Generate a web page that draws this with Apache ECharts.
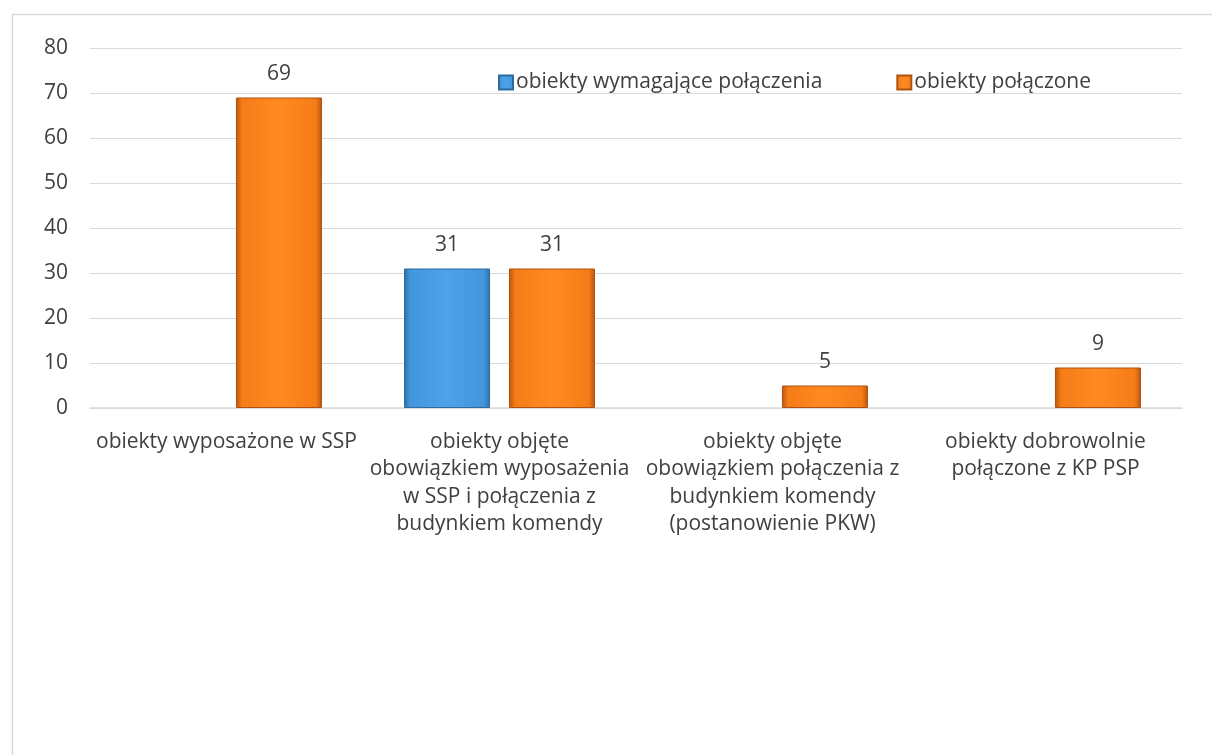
<!DOCTYPE html>
<html>
<head>
<meta charset="utf-8">
<script src="https://cdn.jsdelivr.net/npm/echarts@6/dist/echarts.min.js"></script>
<style>html,body{margin:0;padding:0;background:#fff;}#c{width:1212px;height:755px;}</style>
</head>
<body>
<div id="c"></div>
<script>
const categories = [
  'obiekty wyposażone w SSP',
  'obiekty objęte\nobowiązkiem wyposażenia\nw SSP i połączenia z\nbudynkiem komendy',
  'obiekty objęte\nobowiązkiem połączenia z\nbudynkiem komendy\n(postanowienie PKW)',
  'obiekty dobrowolnie\npołączone z KP PSP'
];
const seriesNames = ['obiekty wymagające połączenia', 'obiekty połączone'];
const requiredValues = [null, 31, null, null];
const connectedValues = [69, 31, 5, 9];
const yTicks = [0, 10, 20, 30, 40, 50, 60, 70, 80];

function grad(dark, main, light) {
  return new echarts.graphic.LinearGradient(0, 0, 1, 0, [
    {offset: 0, color: dark},
    {offset: 0.07, color: main},
    {offset: 0.5, color: light},
    {offset: 0.93, color: main},
    {offset: 1, color: dark}
  ]);
}
const chart = echarts.init(document.getElementById('c'));
const font = '"Open Sans", "Noto Sans", sans-serif';
const fs = 21;
chart.setOption({
  animation: false,
  textStyle: {fontFamily: font},
  graphic: [{
    type: 'rect', left: 10, top: 12,
    shape: {width: 1260, height: 800},
    style: {fill: 'none', stroke: '#d9d9d9', lineWidth: 1.5},
    silent: true, z: -1
  }],
  legend: {
    left: 493, top: 67, itemWidth: 14, itemHeight: 14, itemGap: 74,
    icon: 'rect',
    textStyle: {fontSize: fs, color: '#404040', fontFamily: font, padding: [0, 0, 0, -2]},
    data: seriesNames
  },
  grid: {left: 90, right: 30, top: 48, bottom: 347, containLabel: false},
  xAxis: {
    type: 'category', data: categories,
    axisLine: {lineStyle: {color: '#d9d9d9', width: 1.5}},
    axisTick: {show: false},
    axisLabel: {fontSize: fs, color: '#404040', lineHeight: 27.5, margin: 20, fontFamily: font, interval: 0}
  },
  yAxis: {
    type: 'value', min: yTicks[0], max: yTicks[yTicks.length - 1], interval: 10,
    axisLine: {show: false}, axisTick: {show: false},
    splitLine: {lineStyle: {color: '#d9d9d9', width: 1}},
    axisLabel: {fontSize: fs, color: '#404040', margin: 22, fontFamily: font}
  },
  series: [{
    name: seriesNames[0], type: 'bar', data: requiredValues,
    barWidth: 86, barGap: '22%',
    itemStyle: {color: grad('#2d6fa8', '#4296dc', '#4ea2e8'), borderColor: '#2f6a9e', borderWidth: 1},
    label: {show: true, position: 'top', distance: 13, fontSize: fs, color: '#404040', fontFamily: font}
  }, {
    name: seriesNames[1], type: 'bar', data: connectedValues,
    barWidth: 86, barGap: '22%',
    itemStyle: {color: grad('#b8560f', '#f57c17', '#ff8a22'), borderColor: '#b0520f', borderWidth: 1},
    label: {show: true, position: 'top', distance: 13, fontSize: fs, color: '#404040', fontFamily: font}
  }]
});
</script>
</body>
</html>
